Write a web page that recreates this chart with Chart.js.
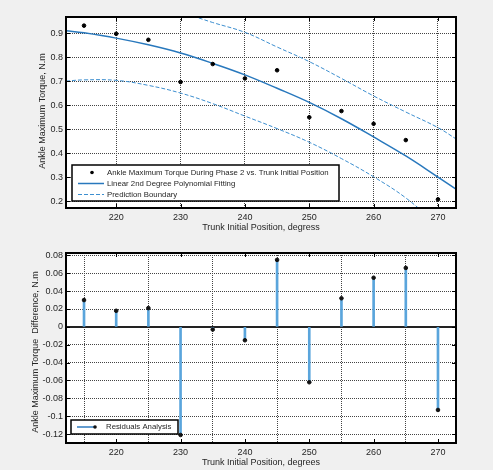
<!DOCTYPE html>
<html>
<head>
<meta charset="utf-8">
<script src="https://cdn.jsdelivr.net/npm/chart.js@4.4.0/dist/chart.umd.min.js"></script>
<style>
    html, body { margin: 0; padding: 0; background: #f0f0f0; }
    .panel { position: absolute; left: 0; width: 493px; height: 235px; }
    #top { top: 0; }
    #bottom { top: 235px; }
</style>
</head>
<body>
<div class="panel" id="top"><canvas id="chartTorque"></canvas></div>
<div class="panel" id="bottom"><canvas id="chartResiduals"></canvas></div>
<script>
// ===== datos =====
const positions = [215, 220, 225, 230, 235, 240, 245, 250, 255, 260, 265, 270];
const torque = [0.932, 0.898, 0.873, 0.697, 0.772, 0.712, 0.746, 0.550, 0.576, 0.523, 0.455, 0.208];
const residuals = [0.030, 0.018, 0.021, -0.121, -0.003, -0.015, 0.075, -0.062, 0.032, 0.055, 0.066, -0.093];

const curveX = [212.2, 215, 220, 225, 230, 235, 240, 245, 250, 255, 260, 265, 270, 272.8];
const fitY = [0.911, 0.902, 0.880, 0.852, 0.818, 0.775, 0.727, 0.671, 0.612, 0.544, 0.468, 0.389, 0.301, 0.251];
const upperY = [1.120, 1.098, 1.056, 1.021, 0.988, 0.945, 0.904, 0.843, 0.782, 0.712, 0.639, 0.572, 0.507, 0.460];
const lowerY = [0.701, 0.706, 0.704, 0.683, 0.651, 0.607, 0.555, 0.503, 0.446, 0.378, 0.302, 0.214, 0.100, 0.040];

const xTicks = [220, 230, 240, 250, 260, 270];

const FONT = "'Liberation Sans', Arial, sans-serif";
const TEXT = '#262626';
const FIT_COLOR = '#2878bd';
const BOUND_COLOR = '#3d8fd0';
const STEM_COLOR = '#5aa5dc';

function pares(xs, ys) {
    return xs.map((x, i) => ({ x: x, y: ys[i] }));
}

function fmt(v) {
    return String(Number(v.toFixed(2)));
}

// marco, marcas interiores, titulos y leyenda estilo MATLAB
function marcoPlugin(cfg) {
    return {
        id: 'marco',
        beforeDraw(chart) {
            const a = chart.chartArea, ctx = chart.ctx;
            ctx.save();
            ctx.fillStyle = '#ffffff';
            ctx.fillRect(a.left, a.top, a.right - a.left, a.bottom - a.top);
            ctx.restore();
        },
        beforeDatasetsDraw(chart) {
            if (!cfg.zeroLine) return;
            const a = chart.chartArea, ctx = chart.ctx;
            const y0 = Math.round(chart.scales.y.getPixelForValue(0));
            ctx.save();
            ctx.strokeStyle = '#222';
            ctx.lineWidth = 2;
            ctx.beginPath();
            ctx.moveTo(a.left, y0);
            ctx.lineTo(a.right, y0);
            ctx.stroke();
            ctx.restore();
        },
        afterDraw(chart) {
            const a = chart.chartArea, ctx = chart.ctx;
            ctx.save();
            // marcas hacia adentro
            ctx.strokeStyle = '#000';
            ctx.lineWidth = 1;
            ctx.beginPath();
            chart.scales.x.ticks.forEach(t => {
                const px = Math.round(chart.scales.x.getPixelForValue(t.value)) + 0.5;
                ctx.moveTo(px, a.bottom); ctx.lineTo(px, a.bottom - 4);
                ctx.moveTo(px, a.top); ctx.lineTo(px, a.top + 4);
            });
            chart.scales.y.ticks.forEach(t => {
                const py = Math.round(chart.scales.y.getPixelForValue(t.value)) + 0.5;
                ctx.moveTo(a.left, py); ctx.lineTo(a.left + 4, py);
                ctx.moveTo(a.right, py); ctx.lineTo(a.right - 4, py);
            });
            ctx.stroke();
            // marco
            ctx.lineWidth = 2;
            ctx.strokeRect(a.left, a.top, a.right - a.left, a.bottom - a.top);

            // titulos de ejes
            ctx.fillStyle = TEXT;
            ctx.font = '9px ' + FONT;
            ctx.textAlign = 'center';
            ctx.textBaseline = 'middle';
            ctx.fillText(cfg.xTitle, (a.left + a.right) / 2, 228);
            ctx.save();
            ctx.translate(cfg.yTitleX, cfg.yTitleY);
            ctx.rotate(-Math.PI / 2);
            ctx.fillText(cfg.yTitle, 0, 0);
            ctx.restore();

            // leyenda
            const lg = cfg.legend;
            ctx.fillStyle = '#ffffff';
            ctx.fillRect(lg.x, lg.y, lg.w, lg.h);
            ctx.strokeStyle = '#000';
            ctx.lineWidth = 1.5;
            ctx.strokeRect(lg.x, lg.y, lg.w, lg.h);
            ctx.font = '7.8px ' + FONT;
            ctx.textAlign = 'left';
            lg.items.forEach((it, i) => {
                const y = lg.rowY[i];
                ctx.save();
                if (it.line) {
                    ctx.strokeStyle = it.line;
                    ctx.lineWidth = it.width || 1.5;
                    ctx.setLineDash(it.dash || []);
                    ctx.beginPath();
                    ctx.moveTo(lg.x1, y);
                    ctx.lineTo(lg.x2, y);
                    ctx.stroke();
                }
                if (it.dot) {
                    ctx.fillStyle = it.dot;
                    ctx.beginPath();
                    ctx.arc(it.dotX, y, 1.8, 0, Math.PI * 2);
                    ctx.fill();
                }
                ctx.restore();
                ctx.fillStyle = TEXT;
                ctx.fillText(it.text, lg.textX, y);
            });
            ctx.restore();
        }
    };
}

function ejes(xmin, xmax, ymin, ymax, ystep, yfmt) {
    return {
        x: {
            type: 'linear',
            min: xmin,
            max: xmax,
            offset: false,
            afterFit: s => { s.height = 27; },
            afterBuildTicks: s => { s.ticks = xTicks.map(v => ({ value: v })); },
            grid: { color: '#444', lineWidth: 1, drawTicks: false },
            border: { display: false, dash: [1, 1] },
            ticks: { padding: 4, color: TEXT, font: { family: FONT, size: 9 } }
        },
        y: {
            type: 'linear',
            min: ymin,
            max: ymax,
            afterFit: s => { s.width = 66; },
            grid: { color: '#444', lineWidth: 1, drawTicks: false },
            border: { display: false, dash: [1, 1] },
            ticks: {
                stepSize: ystep,
                includeBounds: false,
                padding: 3,
                color: TEXT,
                font: { family: FONT, size: 9 },
                callback: yfmt
            }
        }
    };
}

document.addEventListener('DOMContentLoaded', function() {
    // Grafico superior: torque vs posicion
    new Chart(document.getElementById('chartTorque'), {
        type: 'scatter',
        data: {
            datasets: [
                {
                    label: 'Ankle Maximum Torque During Phase 2 vs. Trunk Initial Position',
                    data: pares(positions, torque),
                    backgroundColor: '#000',
                    borderColor: '#000',
                    pointRadius: 1.8,
                    order: 0
                },
                {
                    label: 'Linear 2nd Degree Polynomial Fitting',
                    data: pares(curveX, fitY),
                    showLine: true,
                    borderColor: FIT_COLOR,
                    borderWidth: 1.5,
                    pointRadius: 0,
                    tension: 0.4,
                    order: 1
                },
                {
                    label: 'Prediction Boundary',
                    data: pares(curveX, upperY),
                    showLine: true,
                    borderColor: BOUND_COLOR,
                    borderWidth: 1,
                    borderDash: [4, 2],
                    pointRadius: 0,
                    tension: 0.4,
                    order: 2
                },
                {
                    label: 'Prediction Boundary (lower)',
                    data: pares(curveX, lowerY),
                    showLine: true,
                    borderColor: BOUND_COLOR,
                    borderWidth: 1,
                    borderDash: [4, 2],
                    pointRadius: 0,
                    tension: 0.4,
                    order: 2
                }
            ]
        },
        options: {
            responsive: true,
            maintainAspectRatio: false,
            animation: false,
            layout: { padding: { top: 17, right: 37, left: 0, bottom: 0 } },
            plugins: { legend: { display: false }, tooltip: { enabled: false } },
            scales: ejes(212.2, 272.8, 0.172, 0.968, 0.1, v => v.toFixed(1))
        },
        plugins: [marcoPlugin({
            xTitle: 'Trunk Initial Position, degress',
            yTitle: 'Ankle Maximum Torque, N.m',
            yTitleX: 43,
            yTitleY: 111,
            legend: {
                x: 72, y: 165, w: 267, h: 36,
                rowY: [172.5, 183.5, 194.5],
                x1: 78, x2: 104, textX: 107,
                items: [
                    { text: 'Ankle Maximum Torque During Phase 2 vs. Trunk Initial Position', dot: '#000', dotX: 92 },
                    { text: 'Linear 2nd Degree Polynomial Fitting', line: FIT_COLOR, width: 1.5 },
                    { text: 'Prediction Boundary', line: BOUND_COLOR, width: 1, dash: [4, 2] }
                ]
            }
        })]
    });

    // Grafico inferior: residuos
    new Chart(document.getElementById('chartResiduals'), {
        data: {
            datasets: [
                {
                    type: 'scatter',
                    label: 'Residuals Analysis',
                    data: pares(positions, residuals),
                    backgroundColor: '#111',
                    borderColor: '#111',
                    pointRadius: 1.8,
                    order: 0
                },
                {
                    type: 'bar',
                    label: 'stems',
                    data: pares(positions, residuals),
                    backgroundColor: STEM_COLOR,
                    barThickness: 2,
                    order: 1
                }
            ]
        },
        options: {
            responsive: true,
            maintainAspectRatio: false,
            animation: false,
            layout: { padding: { top: 18, right: 37, left: 0, bottom: 0 } },
            plugins: { legend: { display: false }, tooltip: { enabled: false } },
            scales: ejes(212.2, 272.8, -0.13, 0.0827, 0.02, v => fmt(v))
        },
        plugins: [marcoPlugin({
            zeroLine: true,
            xTitle: 'Trunk Initial Position, degrees',
            yTitle: 'Ankle Maximum Torque  Difference, N.m',
            yTitleX: 36,
            yTitleY: 117,
            legend: {
                x: 71, y: 185, w: 107, h: 14,
                rowY: [192],
                x1: 77, x2: 96, textX: 106,
                items: [
                    { text: 'Residuals Analysis', line: '#2f7bbf', width: 1.5, dot: '#111', dotX: 95 }
                ]
            }
        })]
    });
});
</script>
</body>
</html>
